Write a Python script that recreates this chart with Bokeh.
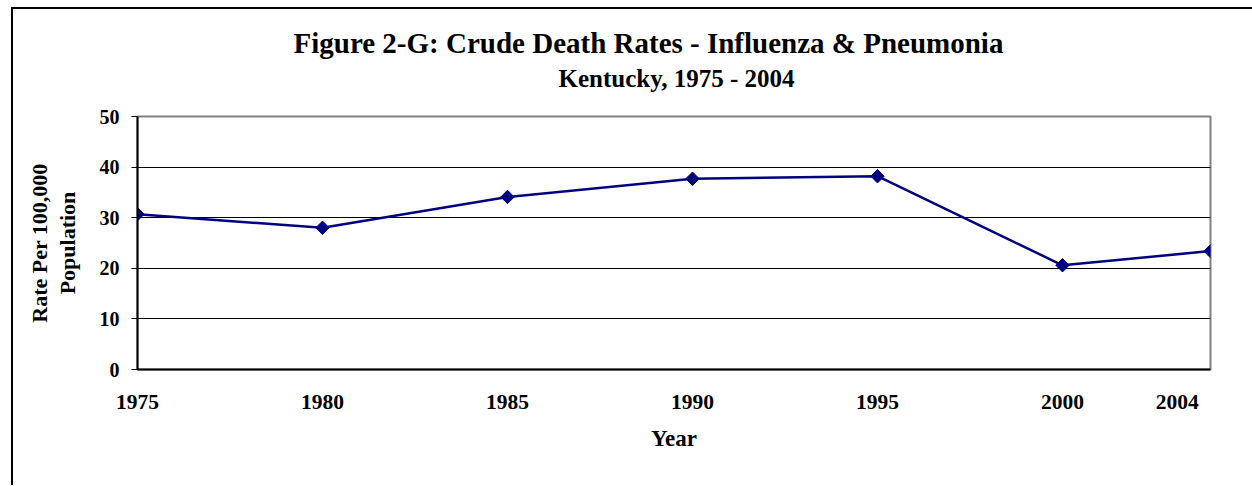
from bokeh.plotting import figure
from bokeh.models import FixedTicker, Title, Range1d
from bokeh.embed import file_html
from bokeh.resources import INLINE
import numpy as np

# ---- data ----
years = [1975, 1980, 1985, 1990, 1995, 2000, 2004]
rates = [30.7, 28.0, 34.1, 37.7, 38.2, 20.6, 23.4]
x_tick_labels = ["1975", "1980", "1985", "1990", "1995", "2000", "2004"]
y_ticks = [0, 10, 20, 30, 40, 50]

title_line1 = "Figure 2-G: Crude Death Rates - Influenza & Pneumonia"
title_line2 = "Kentucky, 1975 - 2004"
x_title = "Year"
y_title = "Rate Per 100,000\nPopulation"

FONT = "Liberation Serif"
NAVY = "#000080"

# label positions (the last label sits left of its point, as in the original)
x_tick_pos = [1975, 1980, 1985, 1990, 1995, 2000, 2003.1]

p = figure(width=1241, height=478, output_backend="svg", toolbar_location=None,
           x_range=Range1d(1975, 2004), y_range=Range1d(0, 50),
           title=None,
           min_border_left=124, min_border_right=44,
           min_border_top=107, min_border_bottom=118)
p.styles = {"border-left": "2px solid #000", "border-top": "2px solid #000",
            "margin-left": "11px", "margin-top": "7px"}

# spacer between plot area and the title block
p.add_layout(Title(text=" ", text_font_size="10px", standoff=10), "above")
p.add_layout(Title(text=title_line2, align="left", text_font=FONT,
                   text_font_size="25px", text_font_style="bold",
                   text_color="black", offset=421, standoff=4), "above")
p.add_layout(Title(text=title_line1, align="left", text_font=FONT,
                   text_font_size="29px", text_font_style="bold",
                   text_color="black", offset=156, standoff=3), "above")

p.background_fill_color = "white"
p.border_fill_color = "white"
p.outline_line_color = "#808080"
p.outline_line_width = 2

# grid
p.xgrid.visible = False
p.ygrid.ticker = FixedTicker(ticks=y_ticks[1:-1])
p.ygrid.grid_line_color = "black"
p.ygrid.grid_line_width = 1

# y axis
p.yaxis.ticker = FixedTicker(ticks=y_ticks)
p.yaxis.axis_label = y_title
p.yaxis.axis_label_text_font = FONT
p.yaxis.axis_label_text_font_size = "22px"
p.yaxis.axis_label_text_font_style = "bold"
p.yaxis.axis_label_text_color = "black"
p.yaxis.axis_label_text_line_height = 1.1
p.yaxis.axis_label_standoff = 17
p.yaxis.major_label_text_font = FONT
p.yaxis.major_label_text_font_size = "20px"
p.yaxis.major_label_text_font_style = "bold"
p.yaxis.major_label_text_color = "black"
p.yaxis.major_tick_out = 6
p.yaxis.major_tick_in = 0
p.yaxis.minor_tick_line_color = None
p.yaxis.major_tick_line_color = "black"
p.yaxis.axis_line_color = "black"
p.yaxis.axis_line_width = 2
p.yaxis.major_label_standoff = 12

# x axis
p.xaxis.ticker = FixedTicker(ticks=x_tick_pos)
p.xaxis.major_label_overrides = {t: l for t, l in zip(x_tick_pos, x_tick_labels)}
p.xaxis.axis_label = x_title
p.xaxis.axis_label_text_font = FONT
p.xaxis.axis_label_text_font_size = "23px"
p.xaxis.axis_label_text_font_style = "bold"
p.xaxis.axis_label_text_color = "black"
p.xaxis.axis_label_standoff = 14
p.xaxis.major_label_text_font = FONT
p.xaxis.major_label_text_font_size = "21.5px"
p.xaxis.major_label_text_font_style = "bold"
p.xaxis.major_label_text_color = "black"
p.xaxis.major_tick_out = 0
p.xaxis.major_tick_in = 0
p.xaxis.minor_tick_line_color = None
p.xaxis.major_tick_line_color = None
p.xaxis.axis_line_color = "black"
p.xaxis.axis_line_width = 2
p.xaxis.major_label_standoff = 25

# data
p.line(years, rates, line_color=NAVY, line_width=2.5)
p.scatter(years, rates, marker="square", angle=np.pi / 4, size=9.5,
          fill_color=NAVY, line_color=NAVY)

open("out.html", "w").write(file_html(p, INLINE))
